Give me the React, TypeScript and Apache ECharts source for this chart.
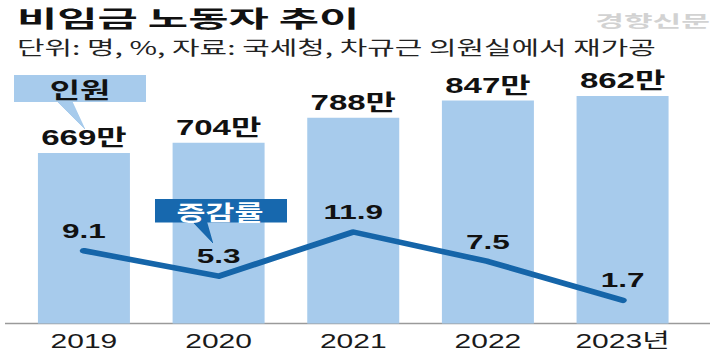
import React, { useEffect, useRef } from "react";
import * as echarts from "echarts";

const categories = ["2019", "2020", "2021", "2022", "2023년"];
const workers = [669, 704, 788, 847, 862];
const growthRates = [9.1, 5.3, 11.9, 7.5, 1.7];

const S = 1.5; // horizontal stretch of the reference image
const W = 722 / S;
const H = 352;
const X = (x: number) => x / S;

const KR = '"Noto Sans CJK KR", "Liberation Sans", sans-serif';
const NUM = '"Liberation Sans", Arial, "Noto Sans CJK KR", sans-serif';
const BAR_COLOR = "#a7cbec";
const LINE_COLOR = "#1565a9";
const BOX_DARK = "#1768ae";

// callout tail built from thin horizontal strips (base y0 from xl..xr, apex at (ax, ay))
function tailStrips(xl: number, xr: number, y0: number, ax: number, ay: number, fill: string) {
  const out: any[] = [];
  const n = Math.round(ay - y0);
  for (let i = 0; i < n; i++) {
    const t0 = i / n;
    const t1 = (i + 1) / n;
    const l = Math.min(xl + t0 * (ax - xl), xl + t1 * (ax - xl));
    const r = Math.max(xr + t0 * (ax - xr), xr + t1 * (ax - xr));
    out.push({
      type: "rect",
      z: 100,
      silent: true,
      shape: { x: X(l), y: y0 + i, width: Math.max(X(r) - X(l), 0.3), height: 1.05 },
      style: { fill },
    });
  }
  return out;
}

export default function App() {
  const ref = useRef<HTMLDivElement>(null);
  useEffect(() => {
    if (!ref.current) return;
    const chart = echarts.init(ref.current, null, { renderer: "svg" });
    chart.setOption({
      animation: false,
      backgroundColor: "#ffffff",
      grid: { left: X(16.6), right: W - X(690.4), top: 40, bottom: 28.5 },
      xAxis: {
        type: "category",
        data: categories,
        axisLine: { show: false },
        axisTick: { show: false },
        axisLabel: { margin: 7, fontSize: 20, color: "#1a1a1a", fontFamily: NUM },
      },
      yAxis: [
        { type: "value", min: 91.6, max: 1051.6, show: false, splitLine: { show: false } },
        { type: "value", min: -1.76, max: 40.56, show: false, splitLine: { show: false } },
      ],
      series: [
        {
          type: "bar",
          data: workers,
          barWidth: X(92),
          itemStyle: { color: BAR_COLOR },
          label: {
            show: true,
            position: "top",
            distance: 4,
            formatter: "{c}만",
            fontSize: 22,
            fontWeight: "bold",
            color: "#111",
            fontFamily: NUM,
          },
          z: 2,
        },
        {
          type: "line",
          yAxisIndex: 1,
          data: growthRates,
          symbol: "circle",
          symbolSize: 1,
          itemStyle: { color: LINE_COLOR },
          lineStyle: { width: 5.5, color: LINE_COLOR, cap: "round", join: "round" },
          label: {
            show: true,
            position: "top",
            distance: 9,
            fontSize: 21,
            fontWeight: "bold",
            color: "#111",
            fontFamily: NUM,
          },
          z: 3,
        },
      ],
      graphic: [
        {
          type: "line",
          z: 1,
          shape: { x1: X(5), y1: 323.5, x2: X(710), y2: 323.5 },
          style: { stroke: "#9a9a9a", lineWidth: 1.5 },
        },
        {
          type: "text",
          x: X(17),
          y: 17,
          scaleX: 1.27,
          z: 10,
          style: {
            text: "비임금 노동자 추이",
            fill: "#111",
            font: `bold 23px ${KR}`,
            textAlign: "left",
            textVerticalAlign: "middle",
          },
        },
        {
          type: "text",
          x: X(17),
          y: 47,
          scaleX: 1.05,
          z: 10,
          style: {
            text: "단위: 명, %, 자료: 국세청, 차규근 의원실에서 재가공",
            fill: "#222",
            font: `19px ${KR}`,
            textAlign: "left",
            textVerticalAlign: "middle",
          },
        },
        {
          type: "text",
          x: X(710),
          y: 19.5,
          scaleX: 1.3,
          z: 10,
          style: {
            text: "경향신문",
            fill: "#d2d2d2",
            font: `bold 16px ${KR}`,
            textAlign: "right",
            textVerticalAlign: "middle",
          },
        },
        {
          type: "rect",
          z: 100,
          shape: { x: X(14), y: 75, width: X(146) - X(14), height: 27 },
          style: { fill: BAR_COLOR },
        },
        ...tailStrips(57, 72, 101, 85, 129, BAR_COLOR),
        {
          type: "rect",
          z: 100,
          shape: { x: X(155), y: 199, width: X(287) - X(155), height: 23.5 },
          style: { fill: BOX_DARK },
        },
        ...tailStrips(193, 207, 222, 213, 243, BOX_DARK),
        {
          type: "text",
          z: 101,
          x: X(80),
          y: 88.5,
          style: {
            text: "인원",
            fill: "#111",
            font: `bold 22px ${KR}`,
            textAlign: "center",
            textVerticalAlign: "middle",
          },
        },
        {
          type: "text",
          z: 101,
          x: X(220),
          y: 211,
          style: {
            text: "증감률",
            fill: "#ffffff",
            font: `bold 21px ${KR}`,
            textAlign: "center",
            textVerticalAlign: "middle",
          },
        },
      ],
    });
    return () => chart.dispose();
  }, []);

  return (
    <div
      style={{
        position: "fixed",
        left: 0,
        top: 0,
        width: 722,
        height: H,
        overflow: "hidden",
        background: "#fff",
      }}
    >
      <div
        ref={ref}
        style={{
          width: W,
          height: H,
          transform: `scaleX(${S})`,
          transformOrigin: "0 0",
        }}
      />
    </div>
  );
}
